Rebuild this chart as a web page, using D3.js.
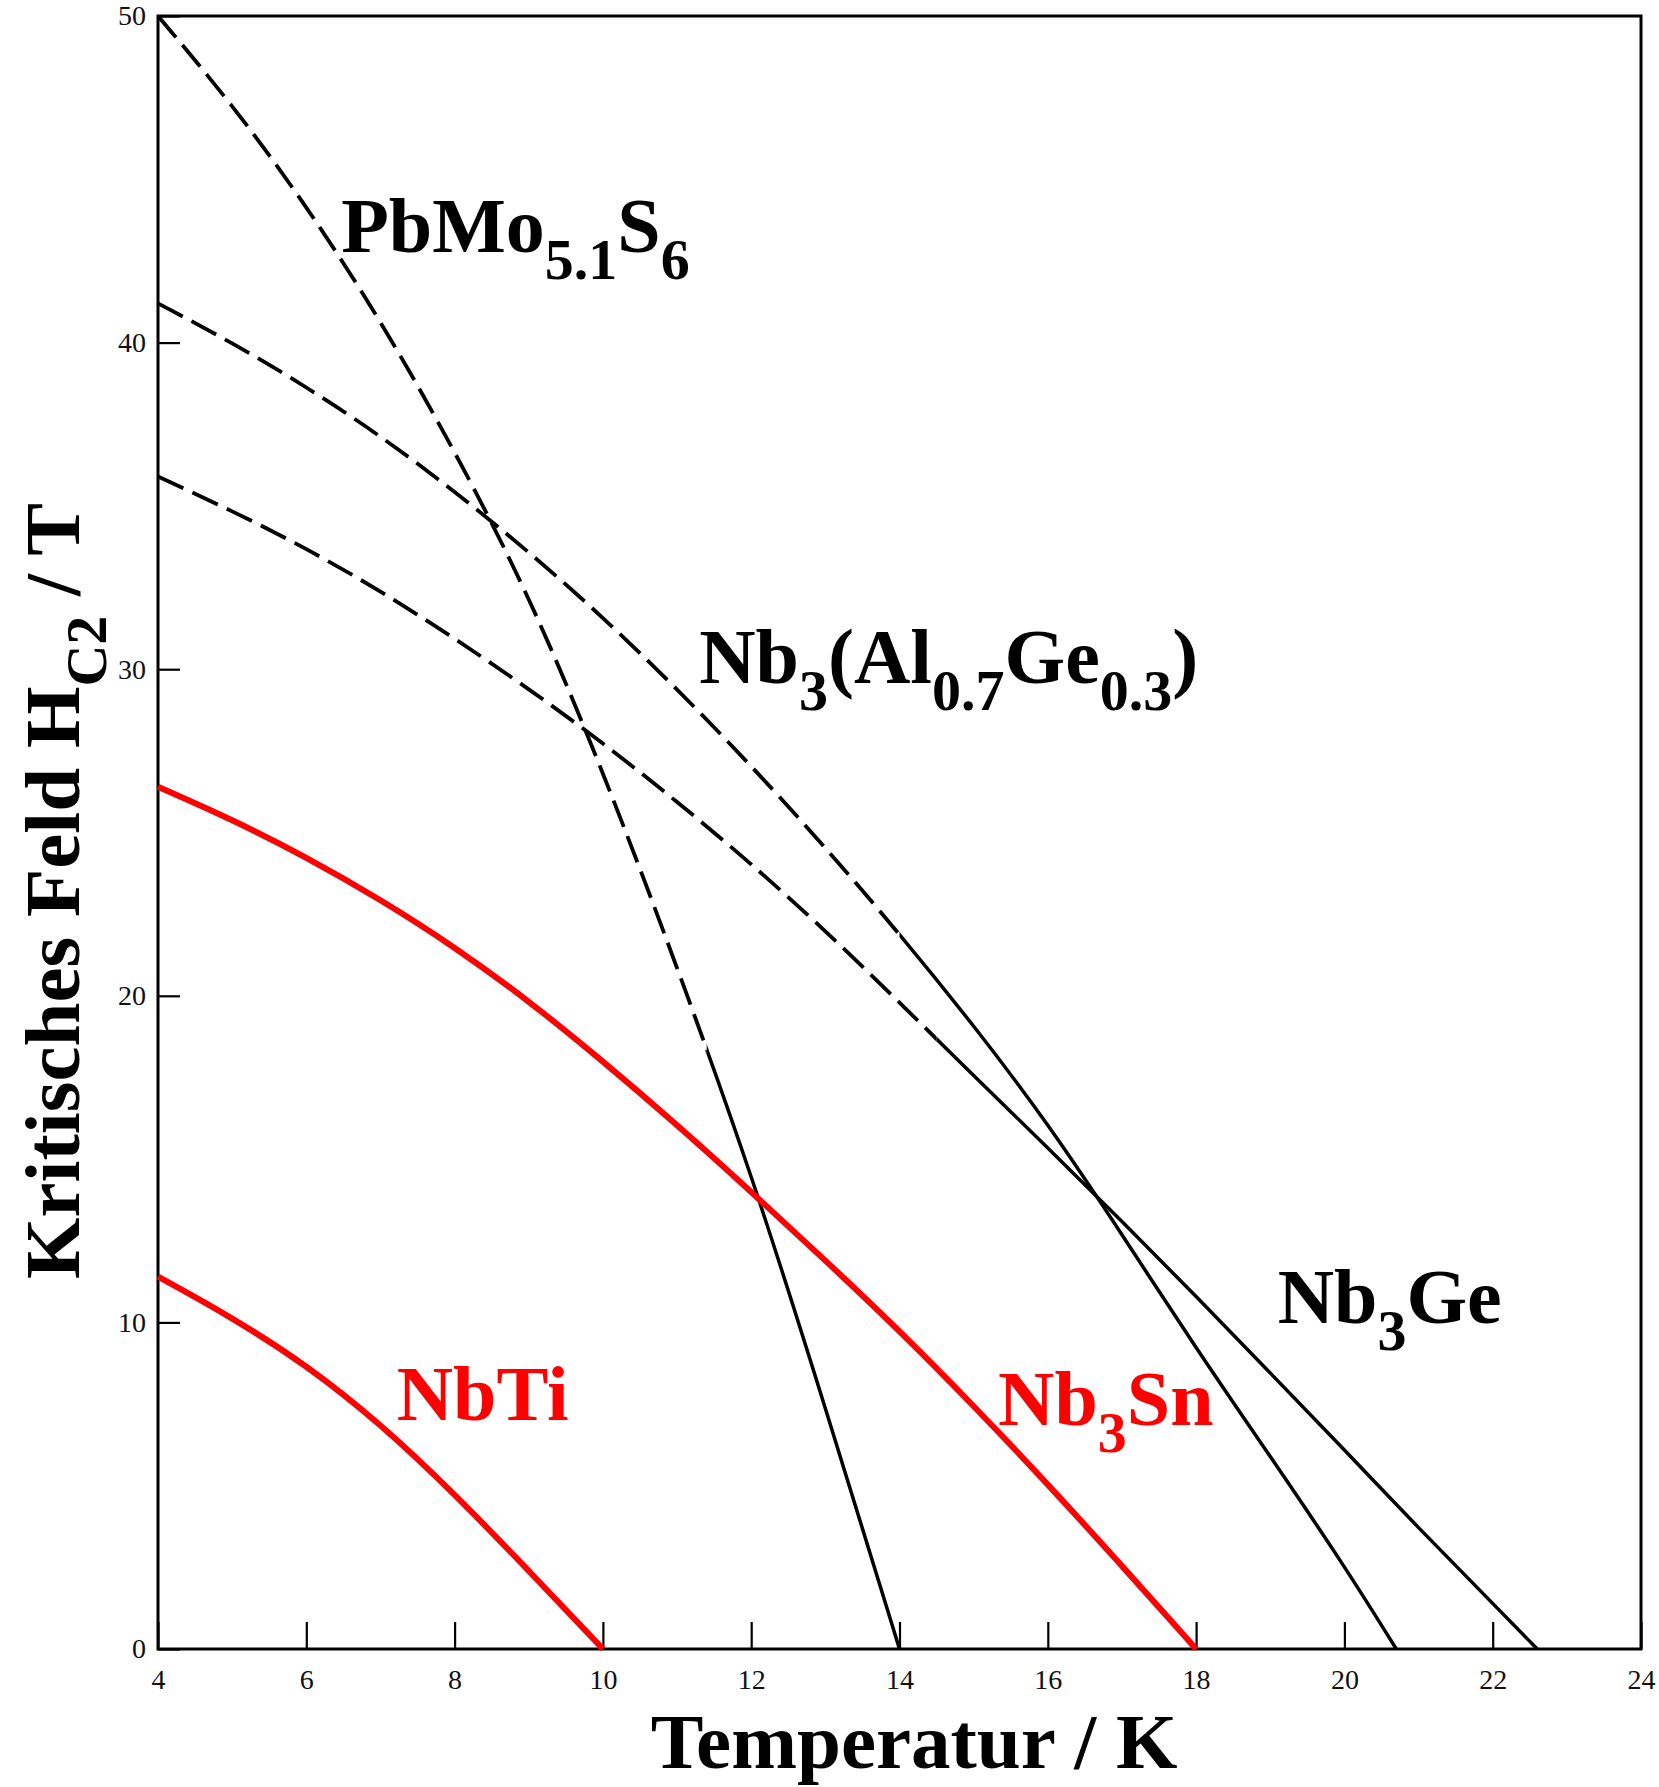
<!DOCTYPE html>
<html><head><meta charset="utf-8">
<script src="https://cdn.jsdelivr.net/npm/d3@7"></script>
<style>html,body{margin:0;padding:0;background:#fff;} svg{display:block;}</style>
</head><body>
<svg id="chart" width="1659" height="1787"></svg>
<script>
// ---- data ----
const xTicks = [4, 6, 8, 10, 12, 14, 16, 18, 20, 22, 24];
const yTicks = [0, 10, 20, 30, 40, 50];

const pbmoT = [4, 5, 6, 7, 8, 9, 10, 11, 12, 13, 14];
const pbmoH = [50, 47.3, 44.2, 40.7, 36.7, 32.3, 26.9, 20.9, 14.6, 7.4, 0];

const nb3AlGeT = [4, 5, 6, 7, 8, 9, 10, 11, 12, 13, 14, 15, 16, 17, 18, 19, 20, 20.7];
const nb3AlGeH = [41.2, 40.0, 38.65, 37.15, 35.45, 33.6, 31.6, 29.4, 27.05, 24.55, 21.9, 19.1, 16.1, 12.7, 9.2, 5.9, 2.55, 0];

const nb3GeT = [4, 5, 6, 7, 8, 9, 10, 11, 12, 13, 14, 15, 16, 17, 18, 19, 20, 21, 22, 22.6];
const nb3GeH = [35.9, 34.85, 33.7, 32.4, 30.95, 29.4, 27.75, 25.95, 24.05, 22.0, 19.8, 17.55, 15.35, 13.1, 10.8, 8.45, 6.1, 3.7, 1.4, 0];

const nb3SnT = [4, 5, 6, 7, 8, 9, 10, 11, 12, 13, 14, 15, 16, 17, 18];
const nb3SnH = [26.4, 25.4, 24.25, 22.95, 21.5, 19.85, 18.0, 16.05, 14.0, 11.9, 9.75, 7.45, 5.05, 2.55, 0];

const nbTiT = [4, 5, 6, 7, 8, 9, 10];
const nbTiH = [11.4, 10.15, 8.7, 6.9, 4.75, 2.4, 0];

// temperature up to which each black curve is drawn dashed (extrapolated part)
const dashedUntilT = { pbmo: 11.4, nb3AlGe: 14.0, nb3Ge: 14.5 };

// label anchors in data units (T, H)
const labelNames = ["PbMo", "Nb3AlGe", "Nb3Ge", "Nb3Sn", "NbTi"];
const labelT = [6.47, 11.30, 19.10, 15.33, 7.22];
const labelH = [42.77, 29.58, 9.98, 6.86, 7.01];

const xTitle = "Temperatur / K";

// ---- drawing ----
const svg = d3.select("#chart");
const W = 1659, Hh = 1787;
svg.append("rect").attr("width", W).attr("height", Hh).attr("fill", "#fff");

const x = d3.scaleLinear().domain([4, 24]).range([158, 1641]);
const y = d3.scaleLinear().domain([0, 50]).range([1649, 16]);

const serif = "'Liberation Serif','Times New Roman',Times,serif";
const RED = "#ff0000";

// axes
const gx = svg.append("g").attr("transform", `translate(0,${y(0)})`)
  .call(d3.axisBottom(x).tickValues(xTicks).tickSizeInner(-27).tickSizeOuter(0).tickPadding(20).tickFormat(d3.format("d")));
gx.select(".domain").remove();
gx.attr("font-family", serif).attr("font-size", 28);
gx.selectAll(".tick line").attr("stroke", "#000").attr("stroke-width", 2.2);
gx.selectAll(".tick text").attr("fill", "#111");

const gy = svg.append("g").attr("transform", `translate(${x(4)},0)`)
  .call(d3.axisLeft(y).tickValues(yTicks).tickSizeInner(-22).tickSizeOuter(0).tickPadding(12).tickFormat(d3.format("d")));
gy.select(".domain").remove();
gy.attr("font-family", serif).attr("font-size", 28);
gy.selectAll(".tick line").attr("stroke", "#000").attr("stroke-width", 2.2);
gy.selectAll(".tick text").attr("fill", "#111");

// frame
svg.append("rect")
  .attr("x", x(4)).attr("y", y(50))
  .attr("width", x(24) - x(4)).attr("height", y(0) - y(50))
  .attr("fill", "none").attr("stroke", "#000").attr("stroke-width", 3);

const line = d3.line().x(d => x(d[0])).y(d => y(d[1])).curve(d3.curveBasis);
const zip = (a, b) => a.map((v, i) => [v, b[i]]);

const defs = svg.append("defs");
function blackCurve(id, T, Hc, tDash) {
  const xs = x(tDash);
  defs.append("clipPath").attr("id", "dash-" + id)
    .append("rect").attr("x", 0).attr("y", 0).attr("width", xs).attr("height", Hh);
  defs.append("clipPath").attr("id", "solid-" + id)
    .append("rect").attr("x", xs).attr("y", 0).attr("width", W - xs).attr("height", Hh);
  const d = line(zip(T, Hc));
  svg.append("path").attr("d", d).attr("fill", "none").attr("stroke", "#000")
    .attr("stroke-width", 3.8).attr("stroke-dasharray", "28 10")
    .attr("clip-path", `url(#dash-${id})`);
  svg.append("path").attr("d", d).attr("fill", "none").attr("stroke", "#000")
    .attr("stroke-width", 3.5).attr("clip-path", `url(#solid-${id})`);
}
blackCurve("pbmo", pbmoT, pbmoH, dashedUntilT.pbmo);
blackCurve("nb3AlGe", nb3AlGeT, nb3AlGeH, dashedUntilT.nb3AlGe);
blackCurve("nb3Ge", nb3GeT, nb3GeH, dashedUntilT.nb3Ge);

[[nb3SnT, nb3SnH], [nbTiT, nbTiH]].forEach(([T, Hc]) => {
  svg.append("path").attr("d", line(zip(T, Hc))).attr("fill", "none")
    .attr("stroke", RED).attr("stroke-width", 6).attr("stroke-linecap", "butt");
});

// curve labels with subscripts
const MAIN = 78, SUB = 58, SHIFT = 27;
function chem(i, parts, color) {
  const t = svg.append("text")
    .attr("x", x(labelT[i])).attr("y", y(labelH[i]))
    .attr("font-family", serif).attr("font-weight", "bold")
    .attr("font-size", MAIN).attr("fill", color);
  let sub = false;
  parts.forEach(([txt, isSub]) => {
    const ts = t.append("tspan").text(txt);
    if (isSub && !sub) { ts.attr("dy", SHIFT); }
    if (!isSub && sub) { ts.attr("dy", -SHIFT); }
    if (isSub) ts.attr("font-size", SUB);
    sub = isSub;
  });
}
chem(0, [["PbMo", false], ["5.1", true], ["S", false], ["6", true]], "#000");
chem(1, [["Nb", false], ["3", true], ["(Al", false], ["0.7", true], ["Ge", false], ["0.3", true], [")", false]], "#000");
chem(2, [["Nb", false], ["3", true], ["Ge", false]], "#000");
chem(3, [["Nb", false], ["3", true], ["Sn", false]], RED);
chem(4, [["NbTi", false]], RED);

// axis titles
svg.append("text").attr("x", 914).attr("y", 1768)
  .attr("text-anchor", "middle").attr("font-family", serif)
  .attr("font-weight", "bold").attr("font-size", 79).attr("fill", "#000")
  .text(xTitle);

const yt = svg.append("text")
  .attr("transform", "translate(79,891) rotate(-90)")
  .attr("text-anchor", "middle").attr("font-family", serif)
  .attr("font-weight", "bold").attr("font-size", 79).attr("fill", "#000");
yt.append("tspan").text("Kritisches Feld H");
yt.append("tspan").attr("font-size", 58).attr("dy", 27).text("C2");
yt.append("tspan").attr("dy", -27).text(" / T");
</script>
</body></html>
